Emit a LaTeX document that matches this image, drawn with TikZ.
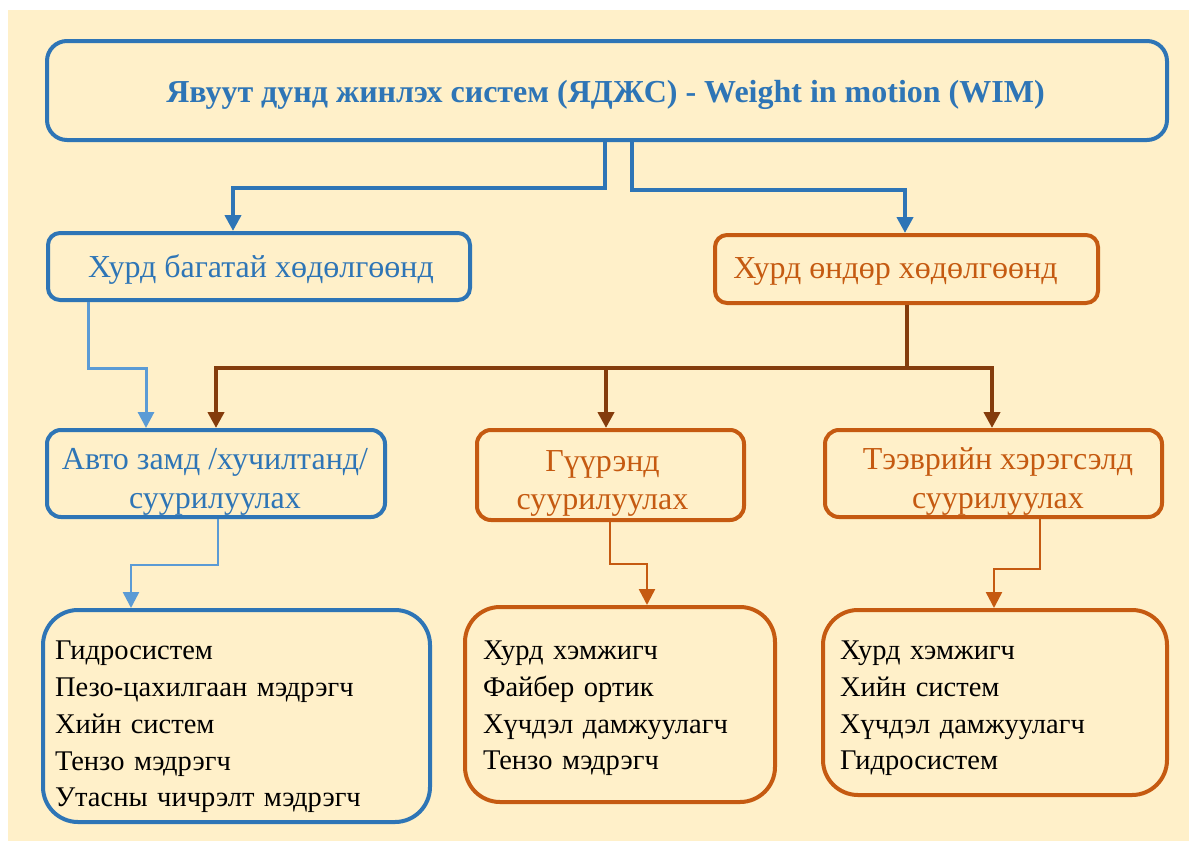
\documentclass[tikz,border=0pt]{standalone}
\usepackage{fontspec}
\setmainfont{Liberation Serif}
\usetikzlibrary{arrows.meta}
\definecolor{cream}{HTML}{FFF0C9}
\definecolor{wblue}{HTML}{2E75B6}
\definecolor{lblue}{HTML}{5B9BD5}
\definecolor{worange}{HTML}{C55A11}
\definecolor{wbrown}{HTML}{843C0C}
% shift the ink of a node's text without changing its declared size
\newcommand\nudge[3]{\raisebox{#2}[\height][\depth]{\hspace*{#1}#3\hspace*{-#1}}}
\newcommand\twolines[2]{\begin{tabular}{@{}c@{}}#1\\#2\end{tabular}}
\newcommand\listtext[3]{\nudge{0pt}{#2}{\parbox[b]{#1}{\raggedright #3}}}
\begin{document}
\begin{tikzpicture}[x=1pt,y=-1pt,
  frame/.style={draw, line width=4pt, inner sep=0pt},
  bluebox/.style={frame, draw=wblue, text=wblue},
  orangebox/.style={frame, draw=worange, text=worange},
  rowfont/.style={font=\fontsize{32}{38.5}\selectfont},
  listbox/.style={frame, align=left, text=black, font=\fontsize{28.5}{36.7}\selectfont},
  conn/.style={-{Triangle[width=16pt,length=16pt]}},
  topconn/.style={conn, draw=wblue, line width=4pt},
  lightconn/.style={conn, draw=lblue, line width=3pt},
  brownconn/.style={conn, draw=wbrown, line width=4pt},
  thinblue/.style={conn, draw=lblue, line width=2.5pt},
  thinorange/.style={conn, draw=worange, line width=2.5pt},
]
% page and background panel
\useasboundingbox (0,0) rectangle (1189,841);
\fill[white] (0,0) rectangle (1189,841);
\fill[cream] (8,10) rectangle (1189,841);

% title
\node[bluebox, rounded corners=20pt, minimum width=1120pt, minimum height=99pt,
      font=\fontsize{32}{36}\selectfont\bfseries] (top) at (607,90.5)
  {\nudge{-1.5pt}{-4pt}{Явуут дунд жинлэх систем (ЯДЖС) - Weight in motion (WIM)}};

% speed classes
\node[bluebox, rounded corners=12pt, minimum width=422pt, minimum height=67pt, rowfont] (slow) at (259,266.5)
  {\nudge{2pt}{-3pt}{Хурд багатай хөдөлгөөнд}};
\node[orangebox, rounded corners=12pt, minimum width=383pt, minimum height=68pt, rowfont] (fast) at (906.5,269)
  {\nudge{-11pt}{-2pt}{Хурд өндөр хөдөлгөөнд}};

% installation places
\node[bluebox, rounded corners=14pt, minimum width=338pt, minimum height=87pt, rowfont] (avto) at (216,473.5)
  {\nudge{-1pt}{-8pt}{\twolines{Авто замд /хучилтанд/}{суурилуулах}}};
\node[orangebox, rounded corners=14pt, minimum width=267pt, minimum height=90pt, rowfont] (guur) at (610.5,475)
  {\nudge{-8pt}{-8pt}{\twolines{Гүүрэнд}{суурилуулах}}};
\node[orangebox, rounded corners=14pt, minimum width=337pt, minimum height=87pt, rowfont] (teev) at (993.5,473.5)
  {\nudge{4.5pt}{-8pt}{\twolines{Тээврийн хэрэгсэлд}{суурилуулах}}};

% sensor lists
\node[listbox, draw=wblue, rounded corners=35pt, text width=363pt, inner xsep=12pt,
      minimum height=212pt] (b1) at (236.5,716)
  {\listtext{363pt}{-11pt}{Гидросистем\\Пезо-цахилгаан мэдрэгч\\Хийн систем\\Тензо мэдрэгч\\Утасны чичрэлт мэдрэгч}};
\node[listbox, draw=worange, rounded corners=35pt, text width=274pt, inner xsep=18pt,
      minimum height=195pt] (b2) at (620,704.5)
  {\listtext{274pt}{-4pt}{Хурд хэмжигч\\Файбер ортик\\Хүчдэл дамжуулагч\\Тензо мэдрэгч}};
\node[listbox, draw=worange, rounded corners=35pt, text width=310pt, inner xsep=17pt,
      minimum height=185pt] (b3) at (995,702.5)
  {\listtext{310pt}{-6pt}{Хурд хэмжигч\\Хийн систем\\Хүчдэл дамжуулагч\\Гидросистем}};

% connectors from the title
\draw[topconn] ([xshift=-2pt]top.south) -- ++(0,46) -| ([xshift=-26pt]slow.north);
\draw[topconn] ([xshift=25pt]top.south) -- ++(0,48) -| ([xshift=-1.5pt]fast.north);

% low speed to road installation
\draw[lightconn] ([xshift=-171pt]slow.south) -- ++(0,66) -| ([xshift=-70pt]avto.north);

% high speed branches
\coordinate (bj) at ([yshift=-63pt]fast.south);
\draw[wbrown, line width=4pt] (fast.south) -- (bj);
\draw[brownconn] (bj) -| (avto.north);
\draw[brownconn] (bj) -| ([xshift=-4.5pt]guur.north);
\draw[brownconn] (bj) -| ([xshift=-1.5pt]teev.north);

% installation places to sensor lists
\draw[thinblue] ([xshift=2pt]avto.south) -- ++(0,46) -| ([xshift=-105.5pt]b1.north);
\draw[thinorange] ([xshift=-0.5pt]guur.south) -- ++(0,42) -| ([xshift=27pt]b2.north);
\draw[thinorange] ([xshift=46.5pt]teev.south) -- ++(0,50) -| ([xshift=-1pt]b3.north);
\end{tikzpicture}
\end{document}
